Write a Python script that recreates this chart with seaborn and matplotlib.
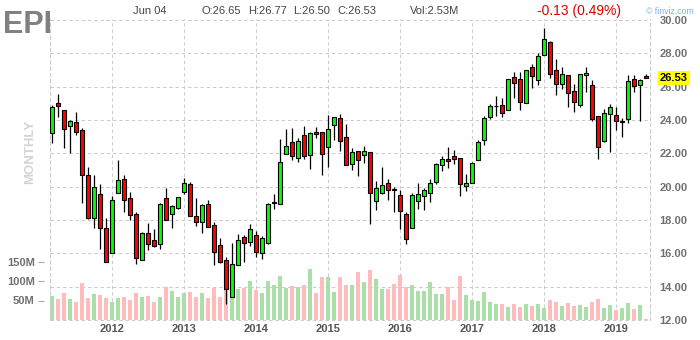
import numpy as np
import pandas as pd
import matplotlib
matplotlib.use("Agg")
import matplotlib.pyplot as plt
import matplotlib.transforms as mtrans
from matplotlib.ticker import FormatStrFormatter
import seaborn as sns

sns.set_theme(style="white")
plt.rcParams['font.family'] = ['Liberation Sans', 'DejaVu Sans']

# ---------------- data ----------------
months = pd.date_range("2011-03-01", "2019-06-01", freq="MS")

opens = [23.20, 25.00, 24.58, 23.64, 23.86, 23.38, 20.68, 18.12, 19.54, 17.50,
         16.04, 19.60, 20.44, 19.30, 18.34, 15.58, 17.20, 16.78, 16.54, 19.30,
         18.34, 18.74, 19.66, 20.14, 18.22, 17.90, 18.94, 17.68, 16.48, 15.58,
         13.36, 15.28, 16.96, 16.66, 17.08, 16.00, 16.64, 19.02, 18.94, 21.94,
         22.66, 21.70, 23.08, 21.88, 23.26, 23.26, 22.36, 23.68, 24.10, 22.96,
         21.34, 22.12, 21.88, 22.06, 19.12, 19.60, 20.20, 19.86, 19.48, 18.34,
         17.50, 19.12, 19.42, 19.60, 20.26, 21.28, 21.64, 21.82, 21.70, 20.02,
         20.20, 21.58, 22.78, 24.16, 24.82, 24.88, 24.58, 26.56, 26.44, 25.00,
         27.16, 26.38, 27.88, 28.66, 26.98, 26.14, 26.68, 25.72, 24.88, 26.68,
         26.08, 24.22, 22.72, 24.34, 24.28, 23.90, 24.04, 26.44, 26.08, 26.65]

highs = [24.90, 25.56, 24.58, 24.00, 24.46, 23.50, 21.16, 20.68, 20.14, 18.12,
         19.44, 21.60, 20.68, 19.68, 18.46, 17.26, 17.82, 17.46, 19.00, 19.92,
         18.90, 19.40, 20.50, 20.26, 19.34, 18.94, 19.20, 17.86, 16.90, 15.80,
         16.62, 17.16, 17.10, 17.76, 17.32, 17.02, 19.00, 19.56, 22.84, 23.44,
         23.50, 22.90, 23.62, 23.26, 23.56, 23.26, 24.28, 24.16, 24.34, 23.74,
         22.30, 22.12, 22.42, 22.06, 20.32, 21.16, 20.44, 19.96, 19.78, 18.46,
         19.60, 20.20, 19.90, 20.44, 21.40, 21.82, 22.36, 22.18, 21.70, 20.74,
         21.46, 22.78, 24.22, 24.94, 25.42, 25.30, 26.44, 26.86, 26.86, 26.98,
         27.34, 28.00, 29.50, 28.72, 27.64, 27.16, 26.68, 26.14, 26.74, 27.16,
         26.38, 24.22, 24.64, 24.94, 24.76, 24.10, 26.68, 26.68, 26.44, 26.77]

lows = [22.60, 24.20, 22.30, 22.04, 23.08, 19.04, 18.04, 17.50, 16.24, 15.46,
        16.04, 19.60, 18.50, 18.02, 15.38, 15.58, 16.20, 16.40, 16.28, 18.02,
        17.54, 18.68, 19.56, 18.22, 17.66, 17.24, 17.56, 15.32, 15.40, 12.98,
        13.36, 15.28, 15.50, 16.46, 15.80, 15.68, 16.58, 18.68, 18.94, 21.94,
        21.58, 21.50, 21.64, 21.08, 22.90, 20.68, 21.20, 22.78, 22.12, 21.28,
        21.00, 20.62, 21.40, 17.74, 18.58, 19.54, 19.18, 18.46, 17.48, 16.54,
        17.50, 18.68, 18.62, 19.10, 20.14, 20.92, 21.10, 21.34, 19.42, 19.72,
        20.20, 21.58, 22.48, 24.04, 24.22, 24.16, 24.58, 25.30, 24.58, 25.00,
        25.90, 26.08, 27.88, 26.50, 25.48, 25.84, 24.76, 24.46, 24.76, 25.66,
        23.92, 21.64, 22.66, 22.06, 23.38, 22.96, 23.80, 25.66, 23.92, 26.50]

closes = [24.76, 24.84, 23.44, 23.92, 23.28, 20.68, 18.12, 19.96, 17.50, 15.50,
          19.18, 20.38, 19.18, 18.28, 15.74, 17.22, 16.56, 16.46, 18.94, 18.02,
          18.84, 19.36, 20.20, 18.22, 17.90, 18.88, 17.56, 16.10, 15.50, 13.84,
          15.34, 16.78, 16.60, 17.44, 16.10, 16.90, 18.94, 19.06, 21.46, 22.42,
          21.82, 22.72, 21.82, 23.20, 23.14, 21.94, 23.44, 24.16, 22.72, 21.28,
          22.06, 21.58, 22.12, 19.60, 19.90, 20.08, 19.78, 19.82, 18.52, 16.84,
          19.48, 19.54, 19.78, 20.20, 21.34, 21.64, 21.52, 21.64, 20.14, 20.20,
          21.40, 22.66, 24.10, 24.82, 24.86, 24.40, 26.44, 26.20, 25.06, 26.98,
          26.62, 27.82, 28.84, 26.74, 26.14, 26.74, 25.60, 25.06, 26.74, 26.80,
          24.04, 22.36, 24.40, 24.76, 23.92, 23.94, 26.32, 26.02, 26.38, 26.53]

volumes_m = [61.6, 54, 69, 54, 46, 95, 56, 67, 64, 56,
             46, 56, 59, 51, 69, 59, 62, 46, 59, 85,
             74, 59, 69, 72, 59, 69, 56, 82, 59, 82,
             80, 80, 82, 100, 77, 69, 100, 90, 113, 82,
             87, 85, 90, 131, 69, 110, 110, 72, 110, 90,
             90, 123, 97, 128, 105, 80, 80, 92, 115, 85,
             90, 74, 74, 97, 67, 67, 85, 51, 113, 64,
             51, 49, 72, 46, 41, 41, 33, 41, 33, 41,
             36, 41, 31, 51, 46, 36, 44, 36, 38, 33,
             46, 54, 31, 38, 26, 31, 44, 28, 38, 2.53]

price_ticks = [12, 14, 16, 18, 20, 22, 24, 26, 28, 30]
vol_ticks_m = [50, 100, 150]
ticker = "EPI"
header_date = "Jun 04"
header_vol = "Vol:2.53M"
header_change = "-0.13 (0.49%)"
period_label = "MONTHLY"

# ---------------- styling constants ----------------
W, H, DPI = 700, 340, 100
GRID = "#cccccc"
DASH = (0, (3.3, 2.7))
UP_C, DN_C = "#00ff00", "#ff0000"
UP_V, DN_V = "#aae0a8", "#ffbcbc"
LBL = "#707070"

ax_left_px, ax_right_px, ax_top_px, ax_bot_px = 50, 650, 19, 320
px_per_price = 33.333 / 2.0
px_per_50m = 19.5

fig = plt.figure(figsize=(W / DPI, H / DPI), dpi=DPI)
fig.patch.set_facecolor("white")
rect = [ax_left_px / W, (H - ax_bot_px) / H,
        (ax_right_px - ax_left_px) / W, (ax_bot_px - ax_top_px) / H]
ax_vol = fig.add_axes(rect)
ax_price = ax_vol.twinx()

idx = np.arange(len(months))
o = np.array(opens); c = np.array(closes)
hi = np.array(highs); lo = np.array(lows)
up = c >= o

# ---------------- volume (seaborn) ----------------
df = pd.DataFrame({"i": idx, "vol": np.array(volumes_m) * 1e6,
                   "dir": np.where(up, "up", "down")})
sns.barplot(data=df, x="i", y="vol", hue="dir", palette={"up": UP_V, "down": DN_V},
            native_scale=True, width=0.83, dodge=False, legend=False,
            errorbar=None, saturation=1, linewidth=0, ax=ax_vol, zorder=2)
ax_vol.set_xlabel(""); ax_vol.set_ylabel("")

# ---------------- candles ----------------
ax_price.vlines(idx, lo, hi, color="black", linewidth=0.9, zorder=2)
body_bot = np.minimum(o, c)
body_h = np.maximum(np.abs(c - o), 0.02)
ax_price.bar(idx, body_h, bottom=body_bot, width=0.65,
             color=np.where(up, UP_C, DN_C), edgecolor="black",
             linewidth=0.8, zorder=3)

# ---------------- limits ----------------
x0 = -(2.0 / 6.0)
x1 = x0 + (ax_right_px - ax_left_px) / 6.0
plot_h = ax_bot_px - ax_top_px
ax_price.set_xlim(x0, x1)
ax_price.set_ylim(12, 12 + plot_h / px_per_price)
ax_vol.set_ylim(0, 50e6 * plot_h / px_per_50m)
ax_vol.set_xlim(x0, x1)

# ---------------- grid ----------------
ax_vol.hlines(price_ticks, x0, x1, transform=ax_price.transData,
              colors=GRID, linewidth=0.75, linestyles=DASH, zorder=0.5, clip_on=False)
jan_idx = [i for i, m in enumerate(months) if m.month == 1]
year_labels = [str(months[i].year) for i in jan_idx]
ax_vol.set_xticks(jan_idx)
ax_vol.set_xticklabels(year_labels)
ax_vol.set_xlim(x0, x1)
ax_vol.xaxis.grid(True, color=GRID, linewidth=0.75, linestyle=DASH, zorder=0.5)
ax_vol.set_axisbelow(True)

for s in ax_vol.spines.values():
    s.set_visible(False)
ax_vol.spines['left'].set_position(('outward', 4))
for name, s in ax_price.spines.items():
    if name in ("left", "right"):
        s.set_visible(True)
        s.set_color(GRID)
        s.set_linewidth(0.75)
        s.set_linestyle(DASH)
    else:
        s.set_visible(False)

# ---------------- ticks ----------------
ax_vol.tick_params(axis="x", bottom=True, length=0, pad=3, labelsize=8,
                   labelcolor="#555555")
for t in ax_vol.get_xticklabels():
    t.set_fontweight("bold")

ax_vol.set_yticks([v * 1e6 for v in vol_ticks_m])
ax_vol.set_yticklabels([f"{v}M" for v in vol_ticks_m])
ax_vol.tick_params(axis="y", left=True, length=4, width=0.8, color="#aaaaaa",
                   pad=3, labelsize=8, labelcolor=LBL)
for t in ax_vol.get_yticklabels():
    t.set_fontweight("bold")

ax_price.set_yticks(price_ticks)
ax_price.yaxis.set_major_formatter(FormatStrFormatter("%.2f"))
ax_price.tick_params(axis="y", right=True, length=0, pad=7, labelsize=8,
                     labelcolor=LBL)
for t in ax_price.get_yticklabels():
    t.set_fontweight("bold")

# last price marker
tr = mtrans.blended_transform_factory(ax_price.transAxes, ax_price.transData)
ax_price.text(1.0 + 10 / 600, c[-1], f"{c[-1]:.2f}", transform=tr, ha="left",
              va="center", fontsize=8, fontweight="bold", color="black",
              bbox=dict(boxstyle="square,pad=0.18", facecolor="#ffff00",
                        edgecolor="none"), clip_on=False, zorder=5)

# ---------------- header ----------------
def fx(px):
    return px / W

def fy(py):
    return 1 - py / H

fig.text(fx(3), fy(33), ticker, fontsize=22, fontweight="bold", color="#808080",
         family=["Liberation Sans Narrow", "Liberation Sans", "DejaVu Sans"],
         ha="left", va="baseline")
fig.text(fx(133), fy(11), header_date, fontsize=8, color="#444444", ha="left", va="center")
ohlc_parts = [f"O:{o[-1]:.2f}", f"H:{hi[-1]:.2f}", f"L:{lo[-1]:.2f}", f"C:{c[-1]:.2f}"]
for part, xpos in zip(ohlc_parts, [202, 248, 293, 337]):
    fig.text(fx(xpos), fy(11), part, fontsize=8, color="#444444", ha="left", va="center")
fig.text(fx(410), fy(11), header_vol, fontsize=8, color="#444444", ha="left", va="center")
fig.text(fx(537), fy(11), header_change, fontsize=10, color="#dd0000", ha="left", va="center")
fig.text(fx(646), fy(11), "\u00a9 finviz.com", fontsize=6.3, color="#7fb2e5",
         ha="left", va="center")
fig.text(fx(30), fy(152), period_label, rotation=90, fontsize=9.5, fontweight="bold",
         color="#d4d4d4", ha="center", va="center")

fig.savefig("out.png", dpi=DPI, facecolor="white")
